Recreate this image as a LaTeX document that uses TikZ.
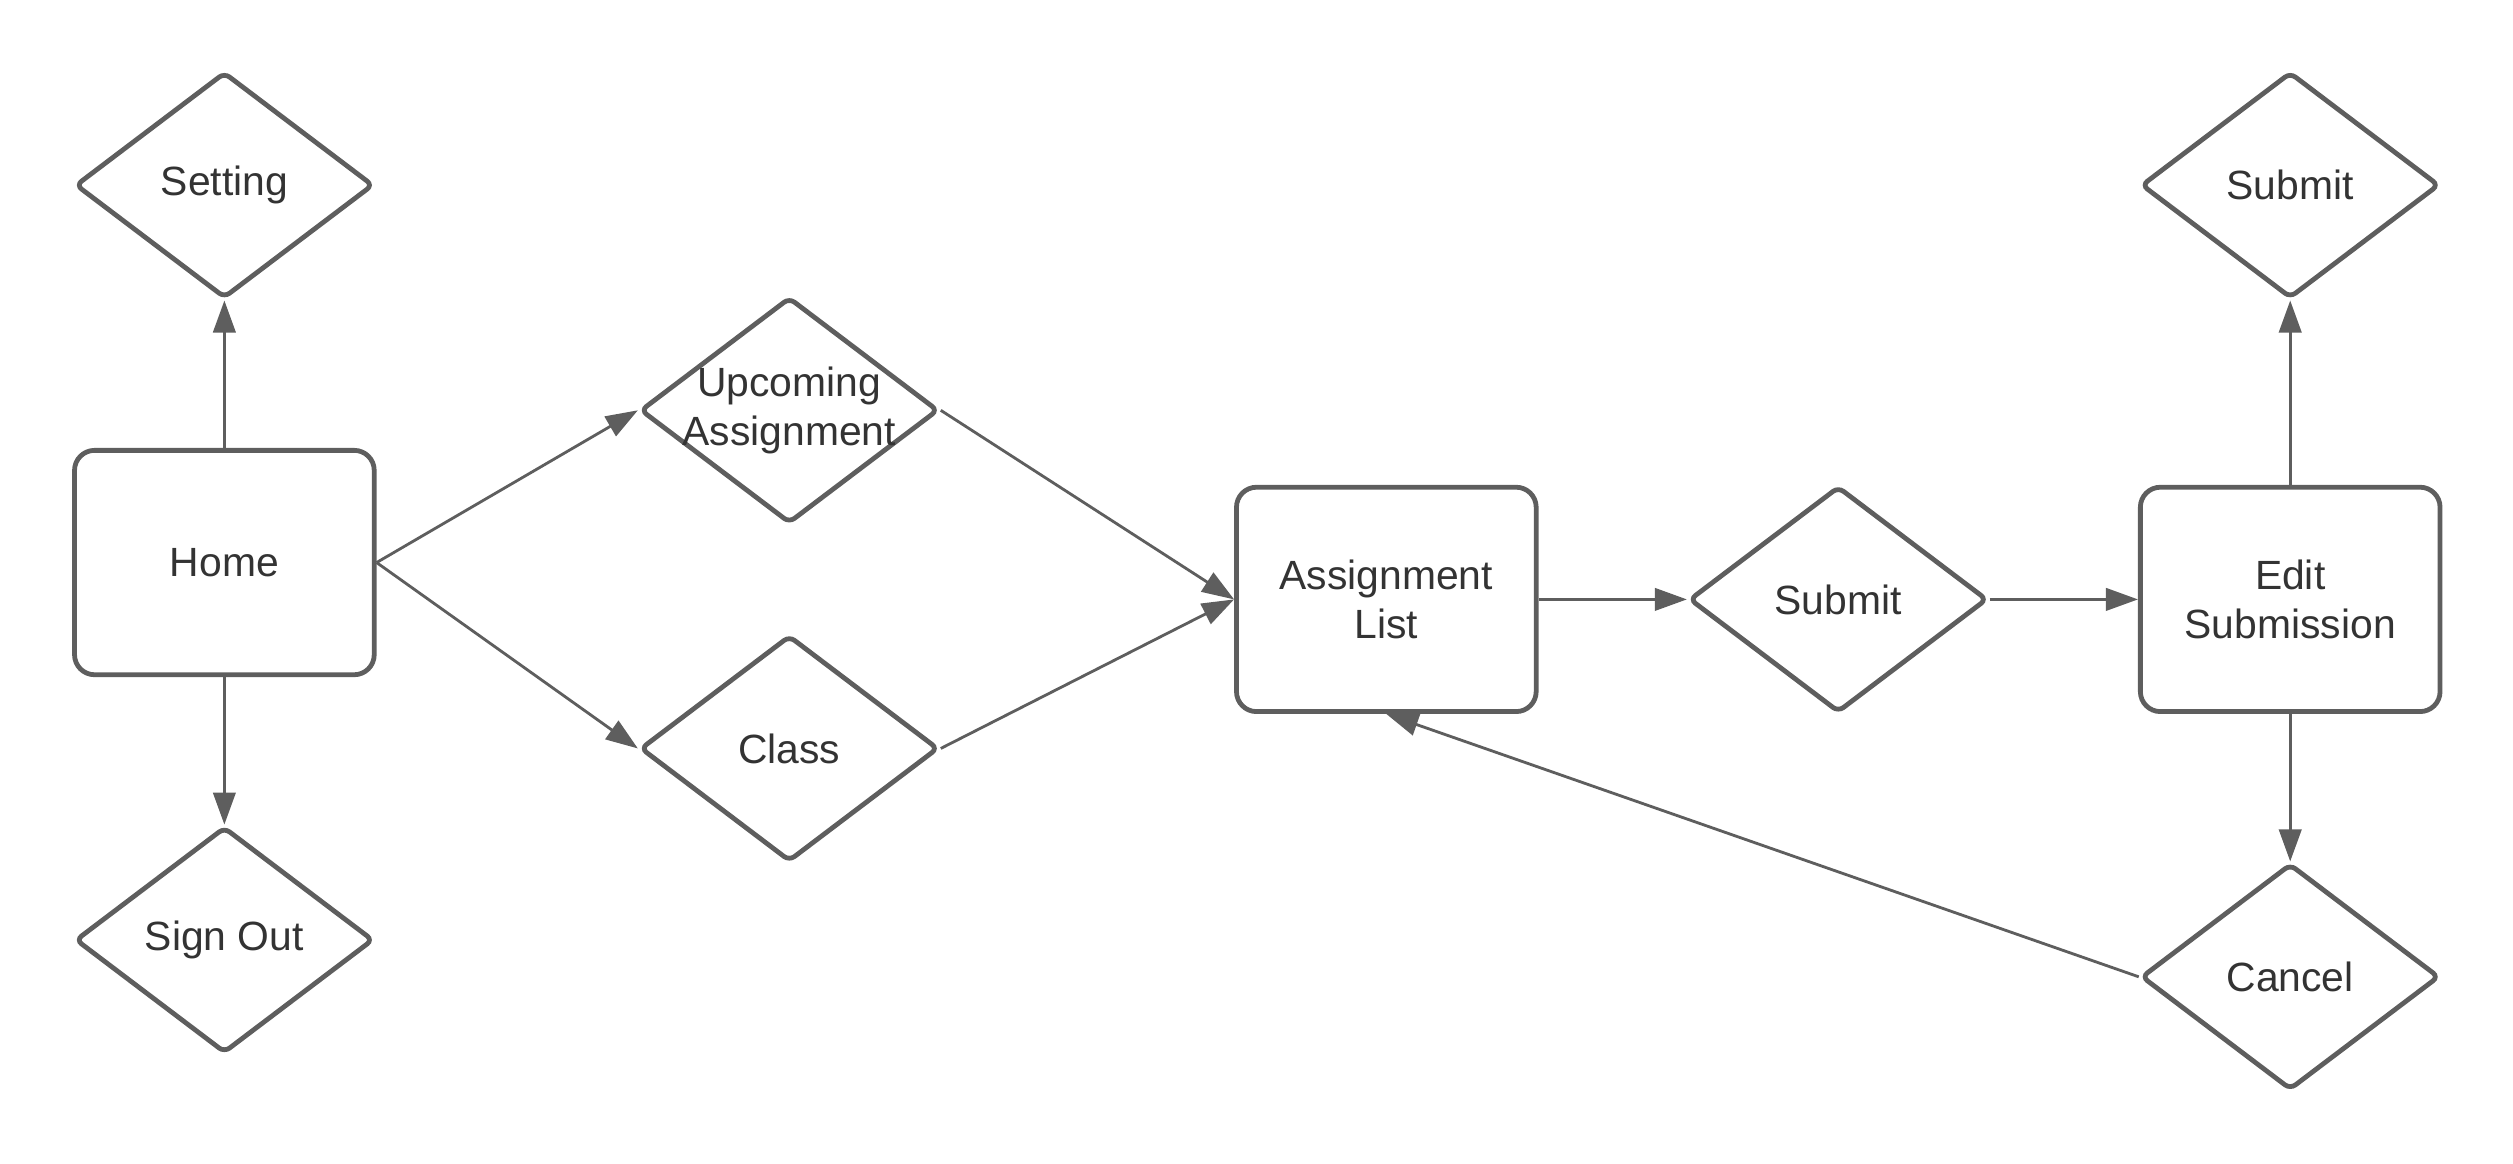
\documentclass[tikz,border=0pt]{standalone}
\usepackage{fontspec}
\setmainfont{Liberation Sans}
\usetikzlibrary{positioning,shapes.geometric,arrows.meta}
\definecolor{linegray}{HTML}{5E5E5E}
\definecolor{textgray}{HTML}{333333}

\begin{document}
\begin{tikzpicture}[
node distance = 18.4mm and 18.5mm,
     box/.style = {rectangle, rounded corners=2.5mm, draw=linegray, line width=1.7pt, text=textgray,
                   minimum width=3.74cm, minimum height=2.80cm, align=center},
  choice/.style = {diamond, rounded corners=0.8mm, draw=linegray, line width=1.7pt, text=textgray,
                   minimum width=3.72cm, minimum height=2.82cm, inner sep=0pt, align=center},
    link/.style = {draw=linegray, line width=1pt, -{Triangle[length=4mm,width=2.8mm]}},
every label/.style = {text=textgray},
font = \fontsize{14.5}{17.6}\selectfont
                    ]
\useasboundingbox (0,0) rectangle (31.36,-14.52);
    \begin{scope}
\node (home)     [box] at (2.80,-7.02) {Home};
\node (setting)  [choice, above=of home] {Setting};
\node (signout)  [choice, below=of home] {Sign Out};
\node (upcoming) [choice, right=32.6mm of home, yshift=19mm,
                  label={[align=center]center:Upcoming\\Assignment}] {};
\node (class)    [choice, right=32.6mm of home, yshift=-23.2mm] {Class};
\node (alist)    [box] at (17.30,-7.48) {Assignment\\List};
\node (submit)   [choice, right=of alist] {Submit};
\node (edit)     [box, right=of submit] {Edit\\Submission};
\node (final)    [choice, above=23mm of edit] {Submit};
\node (cancel)   [choice, below=of edit] {Cancel};
    \end{scope}
\draw   (home.north)  edge[link] (setting.south)
        (home.south)  edge[link] (signout.north)

        (home.east)   edge[link] (upcoming.west)
        (home.east)   edge[link] (class.west)

        (upcoming.east) edge[link] (alist.west)
        (class.east)  edge[link] (alist.west)

        (alist)       edge[link] (submit)
        (submit)      edge[link] (edit)

        (edit)        edge[link] (final)
        (edit)        edge[link] (cancel)

        (cancel.west) edge[link] (alist.south);
    \end{tikzpicture}
\end{document}
